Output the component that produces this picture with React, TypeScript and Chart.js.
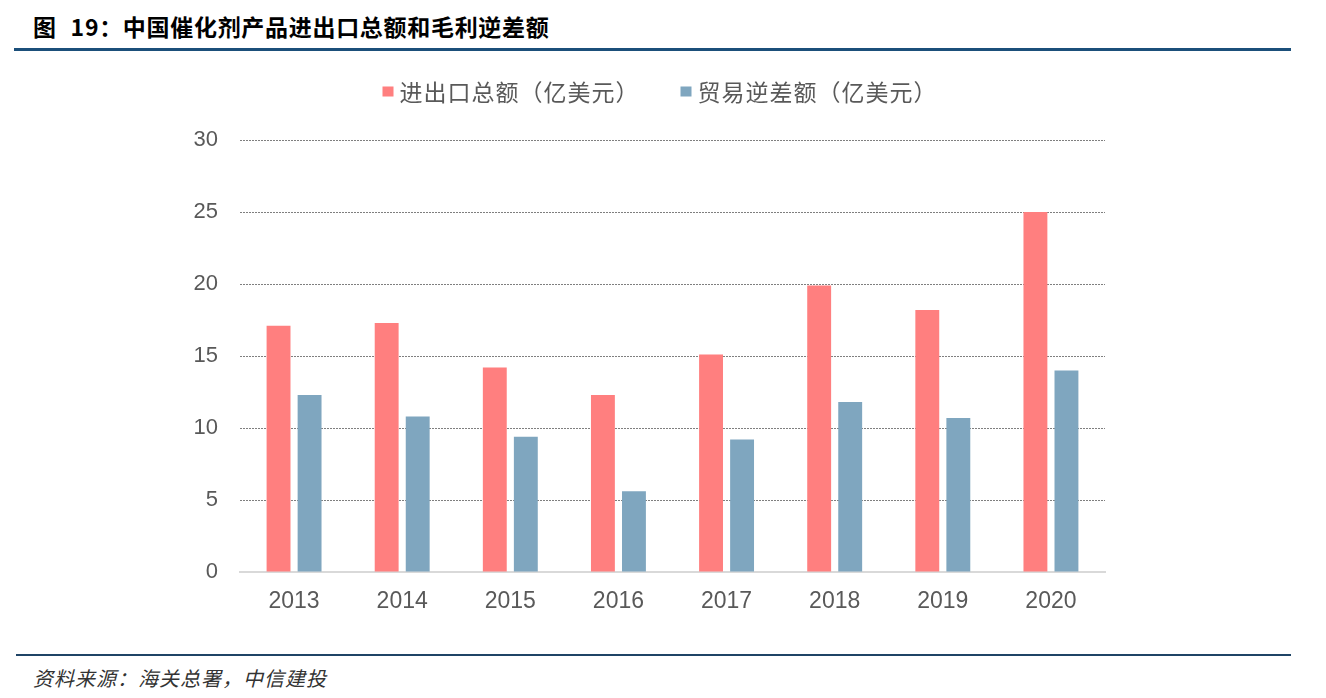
import React, { useEffect, useRef } from "react";
import { Chart, registerables } from "chart.js";

Chart.register(...registerables);

const categories = ["2013", "2014", "2015", "2016", "2017", "2018", "2019", "2020"];
const totalTrade = [17.1, 17.3, 14.2, 12.3, 15.1, 19.9, 18.2, 25.0];
const tradeDeficit = [12.3, 10.8, 9.4, 5.6, 9.2, 11.8, 10.7, 14.0];
const seriesNames = ["进出口总额（亿美元）", "贸易逆差额（亿美元）"];
const seriesColors = ["#FF7F7F", "#7FA6BF"];
const yTicks = [0, 5, 10, 15, 20, 25, 30];

const FONT = "'Liberation Sans', Arial, 'Noto Sans CJK SC', sans-serif";
const CJK = "'Noto Sans CJK SC', 'Liberation Sans', sans-serif";

const legendPlugin = {
  id: "customLegend",
  afterDraw(chart: any) {
    const ctx = chart.ctx;
    const ds = chart.data.datasets;
    const box = 11;
    const gapText = 6;
    const gapItem = 41;
    ctx.save();
    ctx.font = `23px ${CJK}`;
    try {
      (ctx as any).letterSpacing = "1px";
    } catch (e) {}
    ctx.textBaseline = "middle";
    const widths = ds.map((d: any) => box + gapText + ctx.measureText(d.label).width);
    const total = widths.reduce((a: number, b: number) => a + b, 0) + gapItem * (ds.length - 1);
    let x = chart.width / 2 - total / 2 + 6;
    const y = 31;
    ds.forEach((d: any, i: number) => {
      ctx.fillStyle = d.backgroundColor;
      ctx.fillRect(x, y - 4.5, box, 10);
      ctx.fillStyle = "#595959";
      ctx.fillText(d.label, x + box + gapText, y + 1);
      x += widths[i] + gapItem;
    });
    ctx.restore();
  },
};

function BarChart() {
  const ref = useRef<HTMLCanvasElement | null>(null);
  useEffect(() => {
    if (!ref.current) return;
    const chart = new Chart(ref.current, {
      type: "bar",
      data: {
        labels: categories,
        datasets: [
          {
            label: seriesNames[0],
            data: totalTrade,
            backgroundColor: seriesColors[0],
            categoryPercentage: 0.574,
            barPercentage: 0.77,
          },
          {
            label: seriesNames[1],
            data: tradeDeficit,
            backgroundColor: seriesColors[1],
            categoryPercentage: 0.574,
            barPercentage: 0.77,
          },
        ],
      },
      options: {
        animation: false,
        responsive: false,
        maintainAspectRatio: false,
        layout: { padding: { top: 80, right: 53, left: 0, bottom: 0 } },
        plugins: {
          legend: { display: false },
          tooltip: { enabled: false },
        },
        scales: {
          x: {
            grid: { display: false },
            border: { display: true, color: "#D9D9D9", width: 2 },
            ticks: {
              color: "#595959",
              font: { family: FONT, size: 23 },
              padding: 8,
            },
            afterFit(scale: any) {
              scale.height = 78;
            },
          },
          y: {
            min: 0,
            max: 30,
            afterBuildTicks(scale: any) {
              scale.ticks = yTicks.map((v) => ({ value: v }));
            },
            grid: {
              drawTicks: false,
              color: (c: any) => (c.tick && c.tick.value === 0 ? "rgba(0,0,0,0)" : "#7F7F7F"),
              lineWidth: 1,
            },
            border: { display: false, dash: [2, 1] },
            ticks: {
              color: "#595959",
              font: { family: FONT, size: 22 },
              padding: 22,
            },
            afterFit(scale: any) {
              scale.width = 90;
            },
          },
        },
      } as any,
      plugins: [legendPlugin],
    });
    return () => chart.destroy();
  }, []);
  return <canvas ref={ref} width={1008} height={590} style={{ position: "absolute", left: 150, top: 60, width: 1008, height: 590 }} />;
}

export default function App() {
  return (
    <div style={{ position: "fixed", left: 0, top: 0, width: 1326, height: 698, background: "#fff", overflow: "hidden" }}>
      <div
        style={{
          position: "absolute",
          left: 33,
          top: 10,
          fontFamily: CJK,
          fontWeight: 700,
          fontSize: 23,
          lineHeight: "32px",
          color: "#000",
          whiteSpace: "nowrap",
          letterSpacing: 0.7,
          wordSpacing: 8,
        }}
      >
        图 19：中国催化剂产品进出口总额和毛利逆差额
      </div>
      <div style={{ position: "absolute", left: 14, top: 48, width: 1277, height: 3, background: "#1B4F7A" }} />
      <BarChart />
      <div style={{ position: "absolute", left: 16, top: 654, width: 1275, height: 2, background: "#1F4466" }} />
      <div
        style={{
          position: "absolute",
          left: 33,
          top: 664,
          fontFamily: CJK,
          fontStyle: "italic",
          fontSize: 20,
          lineHeight: "28px",
          color: "#333",
          whiteSpace: "nowrap",
          letterSpacing: 1,
        }}
      >
        资料来源：海关总署，中信建投
      </div>
    </div>
  );
}
